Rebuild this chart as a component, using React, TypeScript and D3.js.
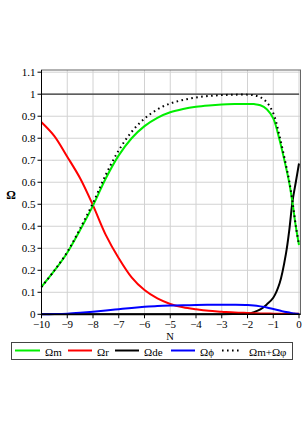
import React from "react";
import * as d3 from "d3";

const N = [-10, -9.5, -9, -8.5, -8, -7.5, -7, -6.5, -6, -5.5, -5, -4.5, -4, -3.5, -3, -2.5, -2, -1.75, -1.5, -1.25, -1, -0.75, -0.5, -0.375, -0.25, -0.125, 0];
const omegaM = [0.125, 0.198, 0.28, 0.383, 0.494, 0.618, 0.722, 0.8, 0.855, 0.893, 0.918, 0.933, 0.943, 0.949, 0.953, 0.955, 0.956, 0.955, 0.95, 0.932, 0.89, 0.79, 0.665, 0.595, 0.505, 0.4, 0.315];
const omegaR = [0.873, 0.81, 0.716, 0.618, 0.495, 0.36, 0.255, 0.168, 0.11, 0.072, 0.047, 0.032, 0.023, 0.016, 0.012, 0.008, 0.006, 0.005, 0.004, 0.004, 0.003, 0.003, 0.002, 0.002, 0.002, 0.002, 0.002];
const omegaDE = [0, 0, 0, 0, 0, 0, 0, 0, 0, 0, 0, 0, 0, 0, 0, 0.001, 0.003, 0.01, 0.022, 0.045, 0.075, 0.142, 0.28, 0.385, 0.515, 0.6, 0.685];
const omegaPhi = [0, 0.001, 0.003, 0.007, 0.012, 0.017, 0.023, 0.029, 0.034, 0.038, 0.04, 0.041, 0.042, 0.043, 0.043, 0.043, 0.042, 0.04, 0.036, 0.031, 0.024, 0.017, 0.01, 0.008, 0.005, 0.003, 0.001];
const totalN = [-10, 0];
const totalValues = [1, 1];
const xTicks = [-10, -9, -8, -7, -6, -5, -4, -3, -2, -1, 0];
const yTicks = [0, 0.1, 0.2, 0.3, 0.4, 0.5, 0.6, 0.7, 0.8, 0.9, 1, 1.1];
const legendLabels = ["Ωm", "Ωr", "Ωde", "Ωϕ", "Ωm+Ωφ"];

const W = 306;
const H = 433;
const FONT = "'Liberation Serif', 'Times New Roman', serif";

export default function App() {
  const x = d3.scaleLinear().domain([-10, 0]).range([41.5, 299]);
  const y = d3.scaleLinear().domain([0, 1.11]).range([314.3, 70]);
  const mk = (vals: number[], xs: number[] = N) =>
    d3
      .line<number>()
      .x((_, i) => x(xs[i]))
      .y((v) => y(v))
      .curve(d3.curveCatmullRom.alpha(0.5))(vals) || "";
  const sumMPhi = omegaM.map((v, i) => v + omegaPhi[i]);
  const fmtMinus = (t: number) => (t < 0 ? "\u2212" + Math.abs(t) : String(t));

  const left = 41.5;
  const right = 300.5;
  const top = 70;
  const bottom = y(0);

  const legendItems = [
    { label: legendLabels[0], color: "#00ee00", x1: 15, x2: 40, tx: 45, dash: "" },
    { label: legendLabels[1], color: "#ff0000", x1: 68, x2: 92, tx: 97, dash: "" },
    { label: legendLabels[2], color: "#000000", x1: 115, x2: 139, tx: 144, dash: "" },
    { label: legendLabels[3], color: "#0000ff", x1: 171, x2: 195, tx: 200, dash: "" },
    { label: legendLabels[4], color: "#000000", x1: 222, x2: 240, tx: 249, dash: "1.6 3.4" },
  ];

  return (
    <svg
      width={W}
      height={H}
      style={{ position: "absolute", left: 0, top: 0, background: "#fff" }}
      fontFamily={FONT}
    >
      <rect x={0} y={0} width={W} height={H} fill="#fff" />
      {xTicks.map((t) => (
        <line key={"gx" + t} x1={x(t)} x2={x(t)} y1={top} y2={bottom} stroke="#d2d2d2" strokeWidth={1} />
      ))}
      {yTicks.map((t) => (
        <line key={"gy" + t} x1={left} x2={right} y1={y(t)} y2={y(t)} stroke="#d2d2d2" strokeWidth={1} />
      ))}
      <rect x={left} y={top} width={right - left} height={bottom - top} fill="none" stroke="#666" strokeWidth={1} />
      <path d={mk(totalValues, totalN)} fill="none" stroke="#333" strokeWidth={1.2} />
      <path d={mk(omegaDE)} fill="none" stroke="#000" strokeWidth={2} />
      <path d={mk(omegaR)} fill="none" stroke="#ff0000" strokeWidth={2} />
      <path d={mk(omegaPhi)} fill="none" stroke="#0000ff" strokeWidth={2} />
      <path d={mk(omegaM)} fill="none" stroke="#00ee00" strokeWidth={2} />
      <path d={mk(sumMPhi)} fill="none" stroke="#000" strokeWidth={2} strokeDasharray="1.6 3.4" />
      <line x1={left} x2={left} y1={top} y2={bottom} stroke="#000" strokeWidth={1} />
      <line x1={left} x2={right} y1={bottom} y2={bottom} stroke="#000" strokeWidth={1.5} />
      {xTicks.map((t) => (
        <g key={"tx" + t}>
          <line x1={x(t)} x2={x(t)} y1={bottom} y2={bottom + 4} stroke="#000" strokeWidth={1} />
          <text x={x(t)} y={bottom + 14} fontSize={11} textAnchor="middle" fill="#000">
            {fmtMinus(t)}
          </text>
        </g>
      ))}
      {yTicks.map((t) => (
        <g key={"ty" + t}>
          <line x1={left - 4} x2={left} y1={y(t)} y2={y(t)} stroke="#000" strokeWidth={1} />
          <text x={left - 6} y={y(t) + 3.8} fontSize={11} textAnchor="end" fill="#000">
            {String(Math.round(t * 10) / 10)}
          </text>
        </g>
      ))}
      <text x={11} y={199} fontSize={12} fontWeight="bold" textAnchor="middle" fill="#000">
        Ω
      </text>
      <text x={170} y={340} fontSize={10.5} textAnchor="middle" fill="#000">
        N
      </text>
      <rect x={11.5} y={342.5} width={281} height={17} fill="#fff" stroke="#444" strokeWidth={1} />
      {legendItems.map((it) => (
        <g key={it.label}>
          <line x1={it.x1} x2={it.x2} y1={350.5} y2={350.5} stroke={it.color} strokeWidth={2} strokeDasharray={it.dash || undefined} />
          <text x={it.tx} y={356} fontSize={11} fill="#000">
            {it.label}
          </text>
        </g>
      ))}
    </svg>
  );
}
